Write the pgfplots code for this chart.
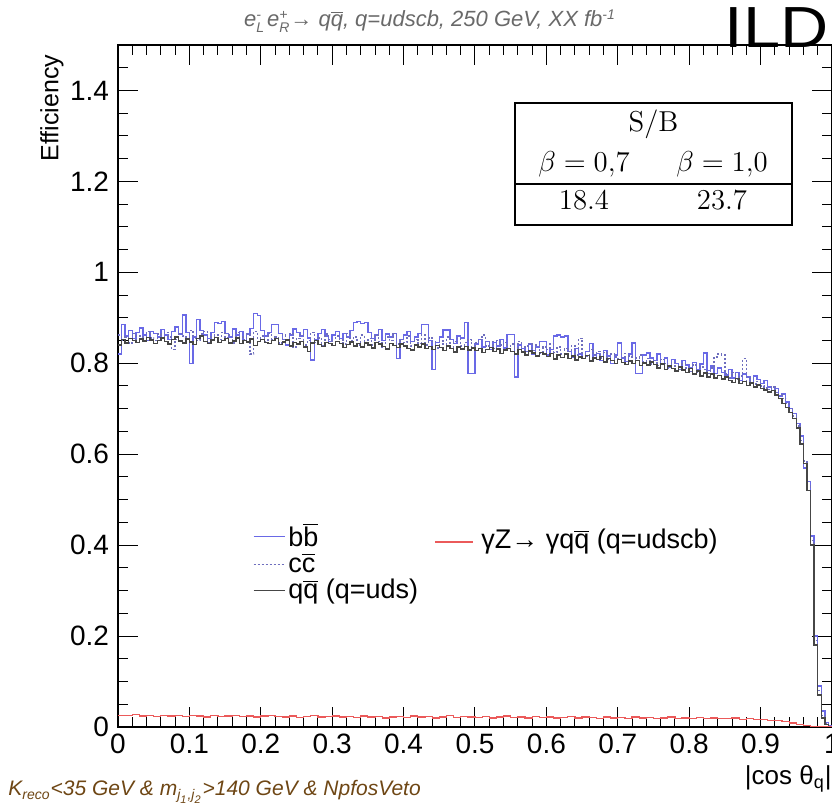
\documentclass[border=0pt]{standalone}
\usepackage[no-math]{fontspec}
\setmainfont{Liberation Sans}
\usepackage{pgfplots}
\pgfplotsset{compat=1.18}
\usepackage{pgfplotstable}
\definecolor{bbcol}{RGB}{105,105,230}
\definecolor{cccol}{RGB}{110,110,190}
\definecolor{qqcol}{RGB}{70,70,70}
\definecolor{redcol}{RGB}{235,90,90}
\definecolor{titlegray}{RGB}{105,105,105}
\definecolor{browncol}{RGB}{110,70,20}
\newcommand{\ssz}{\fontsize{7}{7}\selectfont}
\newcommand{\sszz}{\fontsize{5.5}{5.5}\selectfont}

\pgfplotstableread{
b c q
0.820 0.862 0.840
0.885 0.850 0.852
0.860 0.858 0.845
0.872 0.845 0.855
0.855 0.866 0.850
0.868 0.852 0.846
0.878 0.860 0.853
0.862 0.848 0.849
0.850 0.870 0.857
0.870 0.856 0.851
0.866 0.850 0.844
0.858 0.864 0.850
0.874 0.855 0.856
0.862 0.868 0.848
0.852 0.858 0.842
0.870 0.830 0.852
0.880 0.852 0.858
0.864 0.866 0.849
0.906 0.860 0.845
0.868 0.848 0.853
0.800 0.872 0.847
0.858 0.856 0.841
0.896 0.850 0.855
0.872 0.864 0.860
0.862 0.870 0.848
0.855 0.846 0.843
0.868 0.858 0.851
0.890 0.862 0.857
0.888 0.852 0.846
0.892 0.868 0.850
0.866 0.856 0.854
0.858 0.862 0.845
0.875 0.845 0.849
0.862 0.868 0.856
0.870 0.858 0.843
0.850 0.852 0.850
0.864 0.864 0.847
0.876 0.820 0.853
0.910 0.870 0.839
0.905 0.855 0.848
0.872 0.860 0.852
0.860 0.848 0.846
0.868 0.866 0.843
0.885 0.852 0.850
0.885 0.858 0.855
0.866 0.845 0.841
0.852 0.862 0.847
0.840 0.850 0.851
0.862 0.866 0.838
0.875 0.836 0.846
0.868 0.855 0.842
0.860 0.862 0.848
0.874 0.840 0.836
0.856 0.850 0.826
0.807 0.868 0.845
0.852 0.846 0.850
0.866 0.856 0.841
0.874 0.838 0.837
0.860 0.864 0.846
0.848 0.852 0.843
0.862 0.848 0.839
0.870 0.860 0.848
0.855 0.852 0.844
0.866 0.842 0.835
0.858 0.866 0.841
0.872 0.850 0.847
0.890 0.858 0.838
0.892 0.840 0.843
0.888 0.862 0.836
0.890 0.846 0.845
0.868 0.855 0.840
0.855 0.840 0.834
0.862 0.862 0.846
0.874 0.848 0.842
0.850 0.836 0.837
0.864 0.858 0.831
0.858 0.850 0.844
0.866 0.865 0.839
0.810 0.842 0.835
0.852 0.852 0.842
0.862 0.846 0.838
0.870 0.860 0.833
0.848 0.838 0.829
0.858 0.852 0.840
0.866 0.844 0.836
0.885 0.862 0.842
0.885 0.840 0.832
0.850 0.856 0.837
0.786 0.848 0.830
0.846 0.834 0.839
0.858 0.850 0.835
0.873 0.842 0.828
0.873 0.858 0.838
0.852 0.836 0.833
0.844 0.848 0.825
0.860 0.855 0.836
0.856 0.838 0.831
0.890 0.846 0.837
0.778 0.852 0.829
0.778 0.832 0.834
0.842 0.845 0.828
0.852 0.852 0.833
0.836 0.862 0.824
0.848 0.838 0.830
0.830 0.848 0.835
0.846 0.832 0.826
0.838 0.850 0.831
0.852 0.840 0.822
0.834 0.846 0.829
0.863 0.830 0.833
0.863 0.842 0.826
0.770 0.834 0.820
0.840 0.848 0.830
0.832 0.826 0.825
0.826 0.838 0.818
0.842 0.844 0.827
0.820 0.828 0.823
0.836 0.840 0.816
0.848 0.822 0.824
0.848 0.836 0.820
0.818 0.830 0.815
0.830 0.842 0.822
0.860 0.824 0.809
0.862 0.836 0.818
0.858 0.820 0.813
0.860 0.832 0.820
0.826 0.826 0.811
0.814 0.838 0.816
0.832 0.818 0.807
0.820 0.855 0.814
0.810 0.822 0.810
0.826 0.815 0.817
0.843 0.830 0.805
0.812 0.818 0.812
0.822 0.826 0.808
0.806 0.812 0.815
0.828 0.824 0.803
0.816 0.808 0.810
0.800 0.820 0.806
0.818 0.814 0.800
0.845 0.810 0.808
0.812 0.822 0.802
0.804 0.806 0.797
0.820 0.816 0.805
0.845 0.800 0.799
0.778 0.812 0.806
0.778 0.818 0.795
0.818 0.804 0.801
0.823 0.810 0.796
0.812 0.798 0.803
0.806 0.806 0.797
0.820 0.795 0.790
0.798 0.808 0.798
0.812 0.800 0.786
0.792 0.790 0.794
0.808 0.802 0.789
0.800 0.794 0.783
0.786 0.786 0.792
0.806 0.798 0.785
0.796 0.790 0.780
0.790 0.782 0.788
0.802 0.796 0.776
0.786 0.780 0.783
0.798 0.792 0.772
0.823 0.786 0.779
0.784 0.778 0.770
0.794 0.790 0.776
0.778 0.814 0.768
0.790 0.820 0.773
0.780 0.818 0.765
0.774 0.776 0.770
0.786 0.768 0.762
0.768 0.780 0.758
0.780 0.764 0.766
0.762 0.772 0.755
0.776 0.810 0.760
0.770 0.760 0.751
0.758 0.768 0.757
0.772 0.754 0.748
0.764 0.760 0.752
0.756 0.750 0.745
0.762 0.746 0.741
0.748 0.742 0.737
0.740 0.748 0.740
0.744 0.736 0.730
0.728 0.730 0.722
0.732 0.722 0.712
0.715 0.712 0.703
0.700 0.700 0.692
0.690 0.684 0.678
0.668 0.662 0.658
0.640 0.630 0.622
0.570 0.585 0.580
0.540 0.530 0.520
0.420 0.410 0.400
0.200 0.190 0.180
0.090 0.080 0.070
0.035 0.025 0.020
0.010 0.008 0.005
0.003 0.000 0.000
0.003 0.000 0.000
}\histdata

\pgfplotstableread{
r
0.026
0.025
0.027
0.024
0.025
0.023
0.026
0.024
0.025
0.023
0.025
0.024
0.022
0.025
0.023
0.024
0.026
0.023
0.024
0.022
0.024
0.025
0.023
0.022
0.024
0.021
0.023
0.025
0.022
0.023
0.024
0.022
0.023
0.021
0.024
0.022
0.023
0.020
0.022
0.023
0.021
0.024
0.022
0.023
0.020
0.022
0.026
0.021
0.023
0.022
0.021
0.023
0.020
0.022
0.024
0.021
0.022
0.020
0.023
0.021
0.022
0.020
0.021
0.023
0.020
0.022
0.021
0.019
0.022
0.020
0.021
0.019
0.022
0.020
0.021
0.019
0.020
0.022
0.019
0.020
0.019
0.021
0.018
0.020
0.019
0.018
0.020
0.017
0.018
0.016
0.016
0.015
0.014
0.012
0.009
0.006
0.003
0.001
0.000
0.000
0.000
}\reddata

\begin{document}
\begin{tikzpicture}
\begin{axis}[
  at={(59pt,41.5pt)}, anchor=south west,
  scale only axis, width=357pt, height=341pt,
  xmin=0, xmax=1, ymin=0, ymax=1.5,
  axis line style={line width=0.6pt},
  tick style={line width=0.5pt, black},
  tick align=inside,
  xtick pos=both, ytick pos=both,
  major tick length=10pt, minor tick length=5pt,
  xtick={0,0.1,0.2,0.3,0.4,0.5,0.6,0.7,0.8,0.9,1},
  xticklabels={0,0.1,0.2,0.3,0.4,0.5,0.6,0.7,0.8,0.9,1},
  minor xtick={0,0.02,...,1.0},
  ytick={0,0.2,0.4,0.6,0.8,1,1.2,1.4},
  yticklabels={0,0.2,0.4,0.6,0.8,1,1.2,1.4},
  minor ytick={0,0.05,...,1.5},
  ticklabel style={font=\fontsize{14}{14}\selectfont},
  yticklabel style={xshift=-1pt},
  /pgf/number format/assume math mode=true,
  legend cell align=left,
  legend style={draw=none, fill=none, at={(axis description cs:0.18,0.31)}, anchor=north west,
    font=\fontsize{13.5}{15}\selectfont, row sep=-1pt, nodes={inner sep=1.5pt}},
]
\addplot[const plot mark left, color=bbcol, line width=0.7pt, mark=none,
  legend image code/.code={\draw[bbcol, line width=0.7pt] (0pt,0pt) -- (15.5pt,0pt);}]
  table[x expr=\coordindex*0.005, y=b] {\histdata};
\addlegendentry{b$\overline{\hbox{b}}$}
\addplot[const plot mark left, color=cccol, line width=0.7pt, dash pattern=on 1pt off 1pt, mark=none,
  legend image code/.code={\draw[cccol, line width=0.7pt, dash pattern=on 1pt off 1pt] (0pt,0pt) -- (15.5pt,0pt);}]
  table[x expr=\coordindex*0.005, y=c] {\histdata};
\addlegendentry{c$\overline{\hbox{c}}$}
\addplot[const plot mark left, color=qqcol, line width=0.7pt, mark=none,
  legend image code/.code={\draw[qqcol, line width=0.7pt] (0pt,0pt) -- (15.5pt,0pt);}]
  table[x expr=\coordindex*0.005, y=q] {\histdata};
\addlegendentry{q$\overline{\hbox{q}}$ (q=uds)}
\addplot[const plot mark left, color=redcol, line width=0.6pt, mark=none, forget plot]
  table[x expr=\coordindex*0.01, y=r] {\reddata};
\end{axis}
% legend key of the red series
\draw[draw=redcol, line width=0.7pt] (217.5pt,134pt) -- (236.5pt,134pt);
\node[anchor=west, inner sep=0pt, font=\fontsize{13.5}{15}\selectfont] at (240.5pt,134pt)
  {γZ→ γq$\overline{\hbox{q}}$ (q=udscb)};
% title and annotations
\node[anchor=base, text=titlegray, font=\fontsize{11}{11}\selectfont\itshape] at (215pt,391.5pt)
  {e$^{\hbox{\ssz -}}_{\hbox{\ssz L}}$\kern1pt e$^{\hbox{\ssz +}}_{\hbox{\ssz R}}$→ q$\overline{\hbox{q}}$, q=udscb, 250 GeV, XX fb$^{\hbox{\ssz -1}}$};
\node[anchor=base west, inner sep=0pt, xscale=1.15, font=\fontsize{29}{29}\selectfont] at (362pt,381pt) {ILD};
\node[anchor=base east, inner sep=0pt, font=\fontsize{13}{13}\selectfont] at (416pt,12.5pt)
  {|cos θ$_{\hbox{\fontsize{9}{9}\selectfont q}}$|};
\node[rotate=90, anchor=center, font=\fontsize{12.5}{12.5}\selectfont] at (26pt,351pt) {Efficiency};
\node[anchor=base west, inner sep=0pt, text=browncol, font=\fontsize{10.5}{10.5}\selectfont\itshape] at (4pt,7pt)
  {K$_{\hbox{\ssz reco}}$<35 GeV \& m$_{\hbox{\ssz j}_{\hbox{\sszz 1}}\hbox{\ssz ,j}_{\hbox{\sszz 2}}}$>140 GeV \& NpfosVeto};
% S/B box
\draw[line width=0.6pt] (257.5pt,292.5pt) rectangle (396pt,353.5pt);
\draw[line width=0.6pt] (257.5pt,313pt) -- (396pt,313pt);
\node[anchor=base, font=\fontsize{14.4}{17}\selectfont] at (326.75pt,339pt) {$\mathrm{S/B}$};
\node[anchor=base, font=\fontsize{14.4}{17}\selectfont] at (292pt,319.2pt) {$\beta = 0{,}7$};
\node[anchor=base, font=\fontsize{14.4}{17}\selectfont] at (361pt,319.2pt) {$\beta = 1{,}0$};
\node[anchor=base, font=\fontsize{14.4}{17}\selectfont] at (292pt,300pt) {$18.4$};
\node[anchor=base, font=\fontsize{14.4}{17}\selectfont] at (361pt,300pt) {$23.7$};
\pgfresetboundingbox
\path[use as bounding box] (0,0) rectangle (416pt,405pt);
\end{tikzpicture}
\end{document}
